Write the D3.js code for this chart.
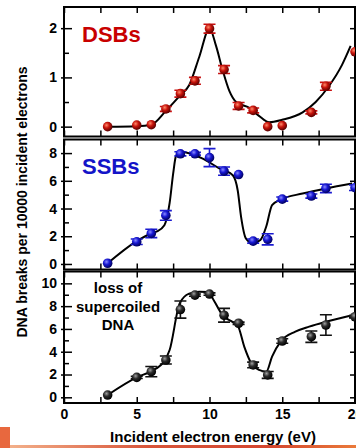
<!DOCTYPE html>
<html>
<head>
    <meta charset="utf-8">
    <title>DNA breaks vs electron energy</title>
    <script src="https://d3js.org/d3.v7.min.js"></script>
    <style>
        body { margin: 0; background: #fff; }
        svg text { font-family: 'Liberation Sans', Arial, sans-serif; }
        .tick text { font-weight: bold; font-size: 14px; fill: #000; }
    </style>
</head>
<body>
<script>
// incident electron energies (eV) of the measured points
var energies = [3, 5, 6, 7, 8, 9, 10, 11, 12, 13, 14, 15, 17, 18, 20];

// double strand breaks
var dsbValues = [0.0, 0.03, 0.04, 0.36, 0.67, 0.93, 1.99, 1.16, 0.42, 0.33, 0.0, 0.02, 0.29, 0.82, 1.52];
var dsbErrors = [0, 0, 0, 0.05, 0.07, 0.07, 0.09, 0.08, 0.07, 0.05, 0, 0, 0.03, 0.08, 0];
var dsbFit = [[3, 0], [5, 0.01], [6, 0.04], [7, 0.32], [8, 0.64], [8.6, 0.84], [9.3, 1.42], [10, 2.0],
    [10.45, 1.64], [10.9, 1.15], [11.37, 0.72], [11.83, 0.5], [12.74, 0.38], [13.4, 0.22], [14.1, 0.09],
    [15, 0.14], [16.4, 0.29], [17.3, 0.5], [18.2, 0.82], [19.1, 1.25], [19.7, 1.64]];

// single strand breaks
var ssbValues = [0.05, 1.6, 2.2, 3.5, 7.95, 7.95, 7.67, 6.7, 6.45, 1.65, 1.78, 4.68, 4.9, 5.45, 5.5];
var ssbErrors = [0, 0.2, 0.3, 0.35, 0.15, 0.1, 0.65, 0.3, 0, 0.15, 0.4, 0.15, 0.15, 0.3, 0.2];
var ssbFit = [[3, 0.05], [5, 1.65], [6, 2.2], [6.35, 2.33], [6.9, 2.8], [7.26, 4.4], [7.5, 6.5], [7.7, 7.8],
    [8.05, 8.1], [9.54, 7.6], [10.7, 6.88], [11.6, 6.4], [11.94, 5.3], [12.17, 3.4], [12.5, 1.85],
    [12.97, 1.5], [13.5, 1.73], [13.9, 2.7], [14.3, 4.25], [14.9, 4.65], [16.4, 5.08], [18, 5.45], [19.8, 5.8]];

// loss of supercoiled DNA
var sclValues = [0.2, 1.75, 2.25, 3.27, 7.7, 8.97, 9.06, 7.2, 6.5, 2.84, 1.96, 4.94, 5.32, 6.34, 7.07];
var sclErrors = [0, 0.1, 0.45, 0.35, 0.75, 0.1, 0.1, 0.6, 0.1, 0.25, 0.3, 0.2, 0.5, 0.9, 0.1];
var sclFit = [[3, 0.2], [5, 1.75], [6, 2.3], [6.9, 3.2], [7.26, 4.15], [7.95, 8.24], [8.6, 9.1], [9.3, 9.26],
    [9.9, 9.25], [10.3, 8.5], [10.9, 7.2], [11.6, 6.6], [11.94, 6.3], [12.4, 4.4], [12.86, 3.0], [13.4, 2.4],
    [13.9, 2.25], [14.3, 3.57], [14.9, 4.9], [15.9, 5.76], [16.85, 6.2], [18, 6.63], [19.8, 7.2]];

// axis ticks
var xTicks = [0, 5, 10, 15, 20];
var xMinorTicks = [2.5, 7.5, 12.5, 17.5];
var dsbTicks = [0, 1, 2], dsbMinor = [0.5, 1.5];
var ssbTicks = [0, 2, 4, 6, 8], ssbMinor = [1, 3, 5, 7];
var sclTicks = [0, 2, 4, 6, 8, 10], sclMinor = [1, 3, 5, 7, 9];

var width = 356, height = 448;
var left = 64, right = 355;

var svg = d3.select("body").append("svg")
    .attr("width", width)
    .attr("height", height);

var defs = svg.append("defs");

function ball(id, light, mid, dark) {
    var g = defs.append("radialGradient").attr("id", id)
        .attr("cx", "38%").attr("cy", "35%").attr("r", "65%");
    g.append("stop").attr("offset", "0%").attr("stop-color", light);
    g.append("stop").attr("offset", "45%").attr("stop-color", mid);
    g.append("stop").attr("offset", "100%").attr("stop-color", dark);
}
ball("redBall", "#ff8a6a", "#c8140c", "#5a0000");
ball("blueBall", "#8a8aff", "#1818d4", "#00005e");
ball("blackBall", "#a0a0a0", "#2c2c2c", "#000");

var stripe = defs.append("linearGradient").attr("id", "stripe");
stripe.append("stop").attr("offset", "0%").attr("stop-color", "#f3b08a");
stripe.append("stop").attr("offset", "40%").attr("stop-color", "#d8553a");
stripe.append("stop").attr("offset", "75%").attr("stop-color", "#d4452e");
stripe.append("stop").attr("offset", "100%").attr("stop-color", "#ea7a3a");

var x = d3.scaleLinear().domain([0, 20]).range([left, right]);

var panels = [
    { values: dsbValues, errors: dsbErrors, fit: dsbFit, ticks: dsbTicks, minor: dsbMinor,
      domain: [-0.2, 2.43], top: 7, bottom: 136.5, fill: "url(#redBall)", bar: "#c81010" },
    { values: ssbValues, errors: ssbErrors, fit: ssbFit, ticks: ssbTicks, minor: ssbMinor,
      domain: [-0.4, 8.98], top: 139.5, bottom: 269.5, fill: "url(#blueBall)", bar: "#1a1ad0" },
    { values: sclValues, errors: sclErrors, fit: sclFit, ticks: sclTicks, minor: sclMinor,
      domain: [-0.5, 11.04], top: 271.5, bottom: 403, fill: "url(#blackBall)", bar: "#111" }
];

function thin(a) { a.select(".domain").remove(); a.selectAll("line").attr("stroke-width", 1.5); }

panels.forEach(function(p, i) {
    var y = d3.scaleLinear().domain(p.domain).range([p.bottom, p.top]);
    var g = svg.append("g");

    g.append("clipPath").attr("id", "clip" + i)
        .append("rect").attr("x", left).attr("y", p.top)
        .attr("width", right - left).attr("height", p.bottom - p.top);

    // left axis: labels + short outside ticks, then longer inside ticks
    g.append("g").attr("transform", "translate(" + left + ",0)")
        .call(d3.axisLeft(y).tickValues(p.ticks).tickSize(3).tickPadding(4).tickFormat(d3.format("d")))
        .call(thin);
    g.append("g").attr("transform", "translate(" + left + ",0)")
        .call(d3.axisRight(y).tickValues(p.ticks).tickSize(8).tickFormat(""))
        .call(thin);
    g.append("g").attr("transform", "translate(" + left + ",0)")
        .call(d3.axisRight(y).tickValues(p.minor).tickSize(5).tickFormat(""))
        .call(thin);
    // right axis, inward
    g.append("g").attr("transform", "translate(" + right + ",0)")
        .call(d3.axisLeft(y).tickValues(p.ticks).tickSize(5).tickFormat(""))
        .call(thin);

    // top / bottom x ticks, inward
    g.append("g").attr("transform", "translate(0," + p.top + ")")
        .call(d3.axisBottom(x).tickValues(xTicks.concat(xMinorTicks)).tickSize(6).tickFormat(""))
        .call(thin);
    g.append("g").attr("transform", "translate(0," + p.bottom + ")")
        .call(d3.axisTop(x).tickValues(xTicks.concat(xMinorTicks)).tickSize(6).tickFormat(""))
        .call(thin);

    if (i === panels.length - 1) {
        g.append("g").attr("transform", "translate(0," + p.bottom + ")")
            .call(d3.axisBottom(x).tickValues(xTicks).tickSize(0).tickPadding(6).tickFormat(d3.format("d")))
            .call(function(a) { a.select(".domain").remove(); });
    }

    g.append("rect")
        .attr("x", left).attr("y", p.top)
        .attr("width", right - left).attr("height", p.bottom - p.top)
        .attr("fill", "none").attr("stroke", "#000").attr("stroke-width", 2);

    var plot = g.append("g").attr("clip-path", "url(#clip" + i + ")");

    var line = d3.line()
        .x(function(d) { return x(d[0]); })
        .y(function(d) { return y(d[1]); })
        .curve(d3.curveMonotoneX);

    plot.append("path").datum(p.fit)
        .attr("d", line)
        .attr("fill", "none").attr("stroke", "#000").attr("stroke-width", 2);

    var pts = energies.map(function(e, k) { return { x: e, y: p.values[k], err: p.errors[k] }; });

    var bars = plot.selectAll(".err").data(pts.filter(function(d) { return d.err > 0; }))
        .enter().append("g").attr("class", "err")
        .attr("stroke", p.bar).attr("stroke-width", 1.6);
    bars.append("line")
        .attr("x1", function(d) { return x(d.x); }).attr("x2", function(d) { return x(d.x); })
        .attr("y1", function(d) { return y(d.y - d.err); }).attr("y2", function(d) { return y(d.y + d.err); });
    bars.append("line")
        .attr("x1", function(d) { return x(d.x) - 6; }).attr("x2", function(d) { return x(d.x) + 6; })
        .attr("y1", function(d) { return y(d.y + d.err); }).attr("y2", function(d) { return y(d.y + d.err); });
    bars.append("line")
        .attr("x1", function(d) { return x(d.x) - 6; }).attr("x2", function(d) { return x(d.x) + 6; })
        .attr("y1", function(d) { return y(d.y - d.err); }).attr("y2", function(d) { return y(d.y - d.err); });

    plot.selectAll(".pt").data(pts).enter().append("circle")
        .attr("class", "pt")
        .attr("cx", function(d) { return x(d.x); })
        .attr("cy", function(d) { return y(d.y); })
        .attr("r", 4.8)
        .attr("fill", p.fill);
});

// panel labels
svg.append("text").attr("x", 82).attr("y", 42)
    .attr("font-size", 22).attr("font-weight", "bold").attr("fill", "#c80000").text("DSBs");
svg.append("text").attr("x", 82).attr("y", 174)
    .attr("font-size", 22).attr("font-weight", "bold").attr("fill", "#1414c8").text("SSBs");
var scl = svg.append("text").attr("text-anchor", "middle")
    .attr("font-size", 15).attr("font-weight", "bold");
["loss of", "supercoiled", "DNA"].forEach(function(s, k) {
    scl.append("tspan").attr("x", 118).attr("y", 293 + k * 18.5).text(s);
});

// axis titles
svg.append("text")
    .attr("transform", "translate(27,202) rotate(-90)")
    .attr("text-anchor", "middle")
    .attr("font-size", 14).attr("font-weight", "bold")
    .text("DNA breaks per 10000 incident electrons");
svg.append("text")
    .attr("x", 213).attr("y", 442)
    .attr("text-anchor", "middle")
    .attr("font-size", 15).attr("font-weight", "bold")
    .text("Incident electron energy (eV)");

// slide decoration at the bottom
svg.append("rect").attr("x", 0).attr("y", 427).attr("width", 10).attr("height", 21).attr("fill", "#e8683e");
svg.append("rect").attr("x", 10).attr("y", 445).attr("width", 346).attr("height", 3).attr("fill", "url(#stripe)");
</script>
</body>
</html>
